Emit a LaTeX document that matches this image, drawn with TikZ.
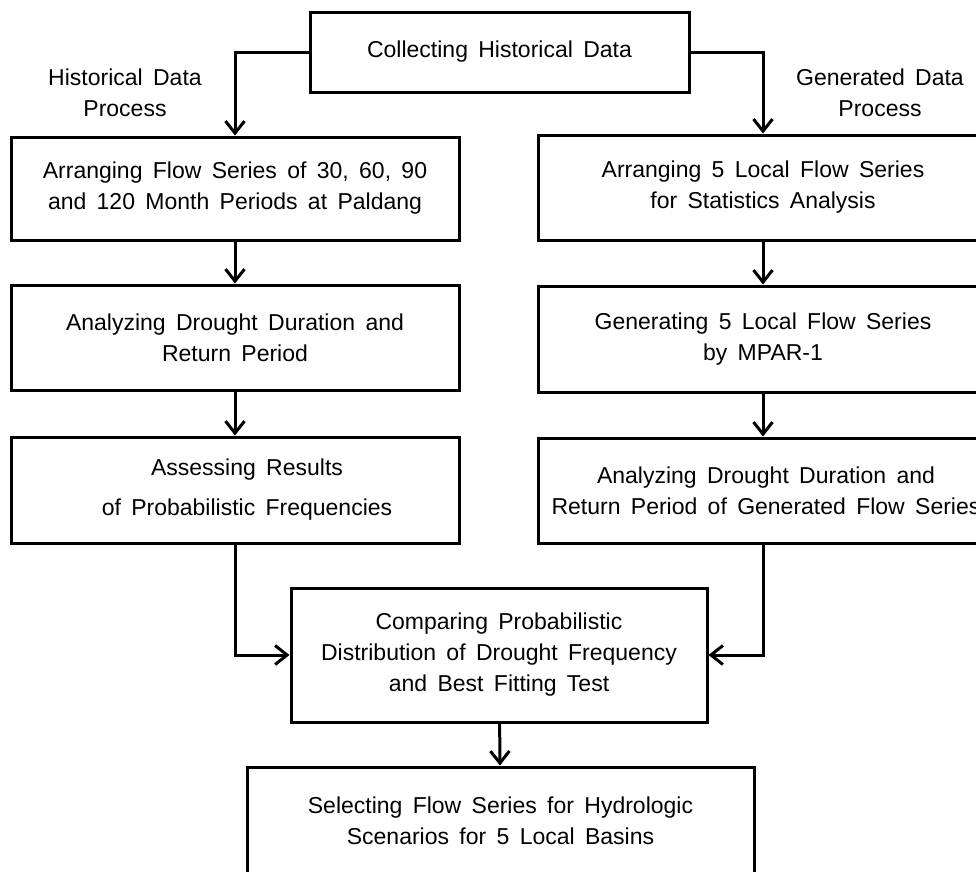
\documentclass[tikz,border=0pt]{standalone}
\usepackage{fontspec}
\setmainfont{Liberation Sans}
\usetikzlibrary{arrows.meta}
\newcommand\boxfont{\fontsize{23}{31}\selectfont\spaceskip=0.45em plus 0.1em minus 0.1em\relax}
\tikzset{
 box/.style={draw, line width=3pt, inner sep=0pt, align=center, font=\boxfont},
 arr/.style={line width=3pt, -{Straight Barb[length=12pt,width=19pt,line width=3pt]}},
 lbl/.style={align=center, font=\boxfont},
}
\begin{document}
\begin{tikzpicture}[x=1pt,y=-1pt]
\useasboundingbox (0,0) rectangle (976,871);
\clip (0,0) rectangle (976,871);
\node[box, minimum width=379pt, minimum height=80pt] (top) at (499.5,52) {Collecting Historical Data};
\node[box, minimum width=448pt, minimum height=103pt] (l1) at (235,188.5) {Arranging Flow Series of 30, 60, 90\\and 120 Month Periods at Paldang};
\node[box, minimum width=448pt, minimum height=105pt] (l2) at (235,337.5) {Analyzing Drought Duration and\\Return Period};
\node[box, minimum width=448pt, minimum height=106pt] (l3) at (235,490) {\hspace*{24pt}Assessing Results\\[9pt]\hspace*{24pt}of Probabilistic Frequencies};
\node[box, minimum width=450pt, minimum height=105pt] (r1) at (763,187.5) {Arranging 5 Local Flow Series\\for Statistics Analysis};
\node[box, minimum width=450pt, minimum height=106pt] (r2) at (763,339) {Generating 5 Local Flow Series\\by MPAR-1};
\node[box, minimum width=450pt, minimum height=105pt] (r3) at (763,490.5) {\hspace*{6pt}Analyzing Drought Duration and\\\hspace*{6pt}Return Period of Generated Flow Series};
\node[box, minimum width=416pt, minimum height=134pt] (cmp) at (499,655) {Comparing Probabilistic\\Distribution of Drought Frequency\\and Best Fitting Test};
\node[box, minimum width=507pt, minimum height=107pt] (bot) at (500.5,820.5) {Selecting Flow Series for Hydrologic\\Scenarios for 5 Local Basins};
\node[lbl] (hl) at (125,92.5) {Historical Data\\Process};
\node[lbl] (gl) at (880,92.5) {Generated Data\\Process};
\draw[arr] (top.west) -| (l1.north);
\draw[arr] (top.east) -| (r1.north);
\draw[arr] (l1) -- (l2);
\draw[arr] (l2) -- (l3);
\draw[arr] (r1) -- (r2);
\draw[arr] (r2) -- (r3);
\draw[arr] (l3.south) |- (cmp.west);
\draw[arr] (r3.south) |- (cmp.east);
\draw[arr] (cmp) -- (bot);
\end{tikzpicture}
\end{document}
